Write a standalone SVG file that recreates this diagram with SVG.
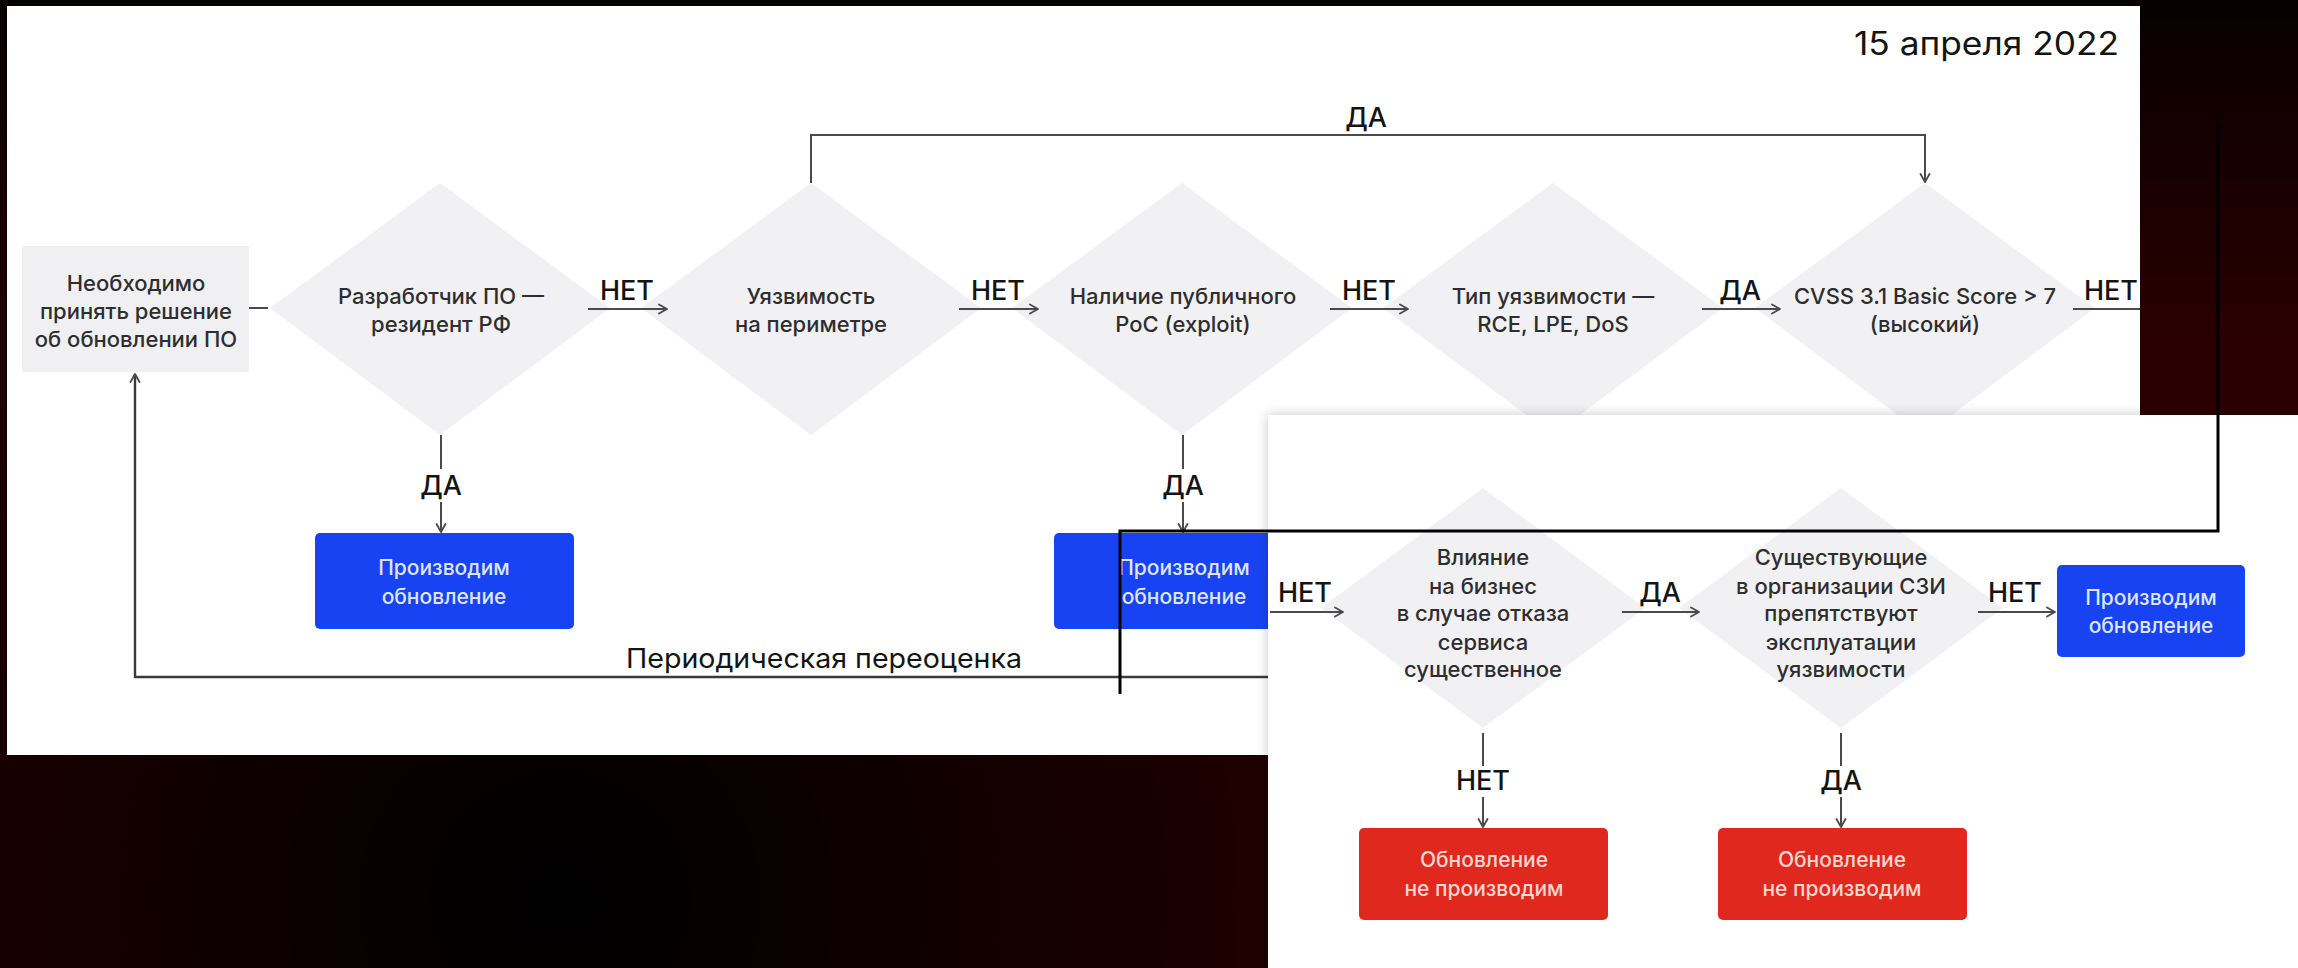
<svg xmlns="http://www.w3.org/2000/svg" width="2298" height="968" viewBox="0 0 2298 968">
  <defs>
    <radialGradient id="bgDark" cx="560" cy="900" r="1000" gradientUnits="userSpaceOnUse">
      <stop offset="0" stop-color="#000000" stop-opacity="1"/>
      <stop offset="0.45" stop-color="#000000" stop-opacity="0.55"/>
      <stop offset="1" stop-color="#000000" stop-opacity="0"/>
    </radialGradient>
    <linearGradient id="bgTop" x1="0" y1="0" x2="0" y2="1">
      <stop offset="0" stop-color="#000000" stop-opacity="0.85"/>
      <stop offset="0.35" stop-color="#000000" stop-opacity="0"/>
    </linearGradient>
    <clipPath id="clipMain">
      <rect x="7" y="6" width="2133" height="749"/>
    </clipPath>
    <filter id="cardShadow" x="-5%" y="-8%" width="110%" height="116%">
      <feDropShadow dx="0" dy="0" stdDeviation="6" flood-color="#000" flood-opacity="0.22"/>
    </filter>
    <marker id="arr" viewBox="0 0 12 12" refX="11" refY="6" markerWidth="12" markerHeight="12" markerUnits="userSpaceOnUse" orient="auto">
      <path d="M3,1.5 L11,6 L3,10.5" fill="none" stroke="#4a4a4a" stroke-width="1.8" stroke-linecap="round" stroke-linejoin="round"/>
    </marker>
    <style>
      .txt { font-family: Inter, "Liberation Sans", sans-serif; font-size: 22px; font-weight: 500; fill: #2e2e2e; text-anchor: middle; }
      .lbl { font-family: Inter, "Liberation Sans", sans-serif; font-size: 27px; font-weight: 500; fill: #141414; text-anchor: middle; }
      .btxt { font-family: Inter, "Liberation Sans", sans-serif; font-size: 21px; font-weight: 500; fill: #dfe5ff; text-anchor: middle; }
      .rtxt { font-family: Inter, "Liberation Sans", sans-serif; font-size: 21px; font-weight: 500; fill: #fcd6cf; text-anchor: middle; }
      .dia { fill: #f1f1f3; }
      .proc { fill: #f0f0f2; }
      .blue { fill: #1843f2; }
      .red { fill: #e0281e; }
      .edge { fill: none; stroke: #4a4a4a; stroke-width: 2; }
      .edgeArr { fill: none; stroke: #4a4a4a; stroke-width: 2; marker-end: url(#arr); }
      .frame { fill: none; stroke: #000; stroke-width: 3; }
    </style>
  </defs>

  <!-- dark backdrop -->
  <rect x="0" y="0" width="2298" height="968" fill="#2a0000"/>
  <rect x="0" y="0" width="2298" height="968" fill="url(#bgDark)"/>
  <rect x="0" y="0" width="2298" height="968" fill="url(#bgTop)"/>

  <!-- main flowchart sheet -->
  <g id="sheet-main">
    <rect x="7" y="6" width="2133" height="749" fill="#ffffff"/>
    <g clip-path="url(#clipMain)">
      <text id="date" class="lbl" x="2119" y="55" style="text-anchor:end;font-size:32px;font-weight:400" textLength="265" lengthAdjust="spacingAndGlyphs">15 апреля 2022</text>

      <g id="start">
        <rect class="proc" x="22" y="246" width="227" height="126" rx="2"/>
        <text class="txt" x="136" y="291">Необходимо</text>
        <text class="txt" x="136" y="319">принять решение</text>
        <text class="txt" x="136" y="347">об обновлении ПО</text>
      </g>

      <g id="dec-resident">
        <polygon class="dia" points="440,183 610,308 440,435 270,308"/>
        <text class="txt" x="441" y="304">Разработчик ПО —</text>
        <text class="txt" x="441" y="332">резидент РФ</text>
      </g>
      <g id="dec-perimeter">
        <polygon class="dia" points="811,183 981,308 811,435 641,308"/>
        <text class="txt" x="811" y="304">Уязвимость</text>
        <text class="txt" x="811" y="332">на периметре</text>
      </g>
      <g id="dec-poc">
        <polygon class="dia" points="1182,183 1352,308 1182,435 1012,308"/>
        <text class="txt" x="1183" y="304">Наличие публичного</text>
        <text class="txt" x="1183" y="332">PoC (exploit)</text>
      </g>
      <g id="dec-type">
        <polygon class="dia" points="1553,183 1723,308 1553,435 1383,308"/>
        <text class="txt" x="1553" y="304">Тип уязвимости —</text>
        <text class="txt" x="1553" y="332">RCE, LPE, DoS</text>
      </g>
      <g id="dec-cvss">
        <polygon class="dia" points="1925,183 2095,308 1925,435 1755,308"/>
        <text class="txt" x="1925" y="304">CVSS 3.1 Basic Score &gt; 7</text>
        <text class="txt" x="1925" y="332">(высокий)</text>
      </g>

      <g id="update-1">
        <rect class="blue" x="315" y="533" width="259" height="96" rx="5"/>
        <text class="btxt" x="444" y="575">Производим</text>
        <text class="btxt" x="444" y="604">обновление</text>
      </g>
      <g id="update-2">
        <rect class="blue" x="1054" y="533" width="259" height="96" rx="5"/>
        <text class="btxt" x="1184" y="575">Производим</text>
        <text class="btxt" x="1184" y="604">обновление</text>
      </g>

      <g id="connectors-main">
        <line class="edge" x1="249" y1="308" x2="268" y2="308"/>
        <path class="edgeArr" d="M811,183 V135 H1925 V182"/>
        <line class="edgeArr" x1="588" y1="309" x2="667" y2="309"/>
        <line class="edgeArr" x1="959" y1="309" x2="1038" y2="309"/>
        <line class="edgeArr" x1="1330" y1="309" x2="1408" y2="309"/>
        <line class="edgeArr" x1="1702" y1="309" x2="1780" y2="309"/>
        <line class="edgeArr" x1="2073" y1="309" x2="2152" y2="309"/>
        <line class="edge" x1="441" y1="435" x2="441" y2="469"/>
        <line class="edgeArr" x1="441" y1="502" x2="441" y2="532"/>
        <line class="edge" x1="1183" y1="435" x2="1183" y2="469"/>
        <line class="edgeArr" x1="1183" y1="502" x2="1183" y2="532"/>
        <path class="edgeArr" d="M1300,677 H135 V374" style="stroke:#3a3a3a;stroke-width:2.4"/>
        <text class="lbl" x="627" y="300">НЕТ</text>
        <text class="lbl" x="998" y="300">НЕТ</text>
        <text class="lbl" x="1369" y="300">НЕТ</text>
        <text class="lbl" x="1740" y="300">ДА</text>
        <text class="lbl" x="2111" y="300">НЕТ</text>
        <text class="lbl" x="1366" y="127">ДА</text>
        <text class="lbl" x="441" y="495">ДА</text>
        <text class="lbl" x="1183" y="495">ДА</text>
        <text class="lbl" x="824" y="668" style="font-weight:400" textLength="396" lengthAdjust="spacingAndGlyphs">Периодическая переоценка</text>
      </g>
    </g>
  </g>

  <!-- continuation sheet -->
  <g id="sheet-continued">
    <rect x="1268" y="415" width="1040" height="563" fill="#ffffff" filter="url(#cardShadow)"/>

    <g id="dec-business">
      <polygon class="dia" points="1483,488 1645,608 1483,728 1321,608"/>
      <text class="txt" x="1483" y="565">Влияние</text>
      <text class="txt" x="1483" y="594">на бизнес</text>
      <text class="txt" x="1483" y="621">в случае отказа</text>
      <text class="txt" x="1483" y="650">сервиса</text>
      <text class="txt" x="1483" y="677">существенное</text>
    </g>
    <g id="dec-protection">
      <polygon class="dia" points="1841,488 2003,608 1841,728 1679,608"/>
      <text class="txt" x="1841" y="565">Существующие</text>
      <text class="txt" x="1841" y="594">в организации СЗИ</text>
      <text class="txt" x="1841" y="621">препятствуют</text>
      <text class="txt" x="1841" y="650">эксплуатации</text>
      <text class="txt" x="1841" y="677">уязвимости</text>
    </g>

    <g id="update-3">
      <rect class="blue" x="2057" y="565" width="188" height="92" rx="5"/>
      <text class="btxt" x="2151" y="605">Производим</text>
      <text class="btxt" x="2151" y="633">обновление</text>
    </g>
    <g id="skip-1">
      <rect class="red" x="1359" y="828" width="249" height="92" rx="5"/>
      <text class="rtxt" x="1484" y="867">Обновление</text>
      <text class="rtxt" x="1484" y="896">не производим</text>
    </g>
    <g id="skip-2">
      <rect class="red" x="1718" y="828" width="249" height="92" rx="5"/>
      <text class="rtxt" x="1842" y="867">Обновление</text>
      <text class="rtxt" x="1842" y="896">не производим</text>
    </g>

    <g id="connectors-continued">
      <line class="edgeArr" x1="1270" y1="612" x2="1343" y2="612"/>
      <line class="edgeArr" x1="1622" y1="612" x2="1699" y2="612"/>
      <line class="edgeArr" x1="1978" y1="612" x2="2055" y2="612"/>
      <line class="edge" x1="1483" y1="733" x2="1483" y2="766"/>
      <line class="edgeArr" x1="1483" y1="797" x2="1483" y2="827"/>
      <line class="edge" x1="1841" y1="733" x2="1841" y2="766"/>
      <line class="edgeArr" x1="1841" y1="797" x2="1841" y2="827"/>
      <text class="lbl" x="1305" y="602">НЕТ</text>
      <text class="lbl" x="1660" y="602">ДА</text>
      <text class="lbl" x="2015" y="602">НЕТ</text>
      <text class="lbl" x="1483" y="790">НЕТ</text>
      <text class="lbl" x="1841" y="790">ДА</text>
    </g>
  </g>

  <!-- continuation link between the two sheets -->
  <g id="link-frame">
    <polyline class="frame" points="2218,123 2218,531 1120,531 1120,694"/>
  </g>
</svg>
